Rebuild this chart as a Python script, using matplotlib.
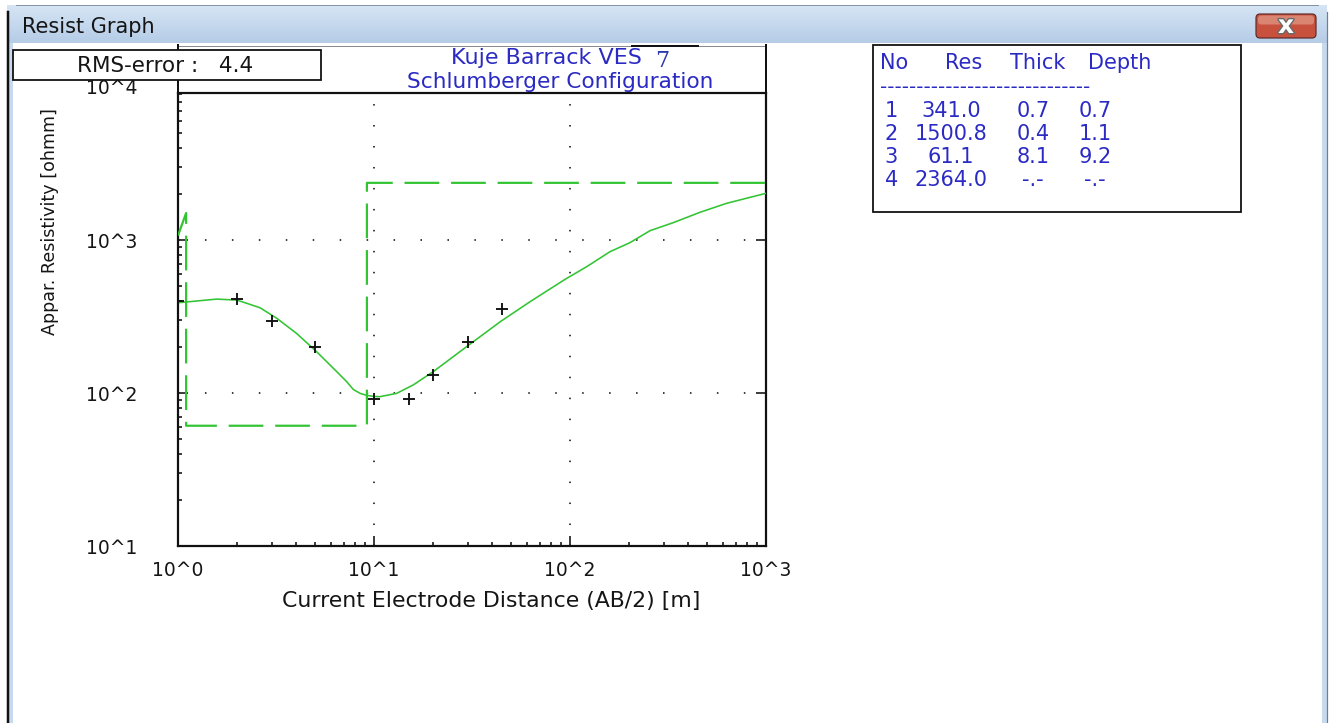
import numpy as np
import matplotlib
matplotlib.use("Agg")
import matplotlib.pyplot as plt
from matplotlib.patches import Rectangle, FancyBboxPatch
from matplotlib.colors import LinearSegmentedColormap
from matplotlib.ticker import FixedLocator, NullFormatter, LogLocator
import matplotlib.patheffects as pe

plt.rcParams['font.family'] = ['DejaVu Sans']
plt.rcParams['lines.scale_dashes'] = False

# ---------------- data ----------------
# measured apparent resistivity (crosses)
obs_ab2 = [1.0, 2.0, 3.0, 5.0, 10.0, 15.0, 20.0, 30.0, 45.0]
obs_rho = [400, 409, 294, 199, 92, 92, 132, 214, 356]

# computed model curve (solid green)
curve_ab2 = [1.0, 1.575, 2.0, 2.62, 3.19, 4.03, 5.10, 6.45, 7.26, 7.84, 8.49,
             9.18, 10.0, 10.7, 13.06, 15.87, 20.07, 29.7, 44.0, 62.5, 94.3,
             121.6, 160, 202, 256, 336, 460, 630, 1000]
curve_rho = [389, 411, 405, 361, 308, 245, 186, 138, 118.5, 105.5, 99.5,
             96.5, 95, 94.6, 99.5, 113, 138, 201, 292, 395, 553,
             669, 839, 960, 1151, 1298, 1517, 1738, 2020]

# layer model (table + dashed step line)
layer_no = [1, 2, 3, 4]
layer_res = [341.0, 1500.8, 61.1, 2364.0]
layer_thick = [0.7, 0.4, 8.1, None]
layer_depth = [0.7, 1.1, 9.2, None]
step_start_rho = 1070  # where the drawn step line enters the plot at AB/2 = 1

rms_error = 4.4
title1 = "Kuje Barrack VES"
ves_no = "7"
title2 = "Schlumberger Configuration"

x_ticks = [1, 10, 100, 1000]
x_ticklabels = ["10^0", "10^1", "10^2", "10^3"]
y_ticks = [10, 100, 1000]
y_ticklabels = ["10^1", "10^2", "10^3"]

# ---------------- figure ----------------
W, H = 1332, 723
fig = plt.figure(figsize=(W / 100, H / 100), dpi=100)
fig.patch.set_facecolor('white')

bg = fig.add_axes([0, 0, 1, 1], zorder=0)
bg.set_xlim(0, W)
bg.set_ylim(H, 0)
bg.axis('off')

PX = 0.72  # points per pixel
txt = '#151515'

# window title bar
cmap = LinearSegmentedColormap.from_list('tb', ['#d6e5f4', '#b5cce7'])
grad = np.linspace(0, 1, 64).reshape(-1, 1)
bg.imshow(grad, extent=[7, 1327, 43, 5], aspect='auto', cmap=cmap, zorder=0.5)
bg.set_xlim(0, W)
bg.set_ylim(H, 0)
bg.plot([16, 1318], [5, 5], color='#8393a8', lw=1 * PX, zorder=1)
bg.add_patch(Rectangle((8.5, 43), 4.5, H - 43, fc='#c6d9ee', ec='none', zorder=1))
bg.plot([7.5, 7.5], [12, H], color='#111111', lw=2.5 * PX, zorder=1)
bg.add_patch(Rectangle((1322, 43), 4.5, H - 43, fc='#c6d9ee', ec='none', zorder=1))
bg.plot([1327, 1327], [12, H], color='#6f7f93', lw=1.2 * PX, zorder=1)
bg.text(22, 27, "Resist Graph", fontsize=15, color=txt, va='center', ha='left')

# close button
bg.add_patch(FancyBboxPatch((1256, 14), 60, 24,
                            boxstyle='round,pad=0,rounding_size=4',
                            fc='#c8513d', ec='#5e2b2b', lw=1.2 * PX, zorder=2))
bg.add_patch(FancyBboxPatch((1258, 15.5), 56, 9,
                            boxstyle='round,pad=0,rounding_size=3',
                            fc='#e39a8a', ec='none', alpha=0.7, zorder=2.1))
bg.text(1286, 26, "x", fontsize=18, fontweight='bold', color='white',
        ha='center', va='center', zorder=3,
        path_effects=[pe.withStroke(linewidth=2, foreground='#6a6a6a')])

# plot frame extension (title area)
bg.plot([178, 766], [45.5, 45.5], color='#8a8a8a', lw=1 * PX, zorder=2)
bg.plot([632, 698], [46, 46], color='#111111', lw=2 * PX, zorder=2.2)
bg.add_patch(Rectangle((647, 42.5), 33, 2, fc='white', ec='none', zorder=2.3))
bg.plot([178, 178], [45, 93], color='#111111', lw=2 * PX, zorder=2)
bg.plot([766, 766], [45, 93], color='#111111', lw=2 * PX, zorder=2)

# RMS box
bg.add_patch(Rectangle((13, 50), 308, 30, fc='white', ec='#111111', lw=1.8 * PX, zorder=3))
bg.text(165, 66, f"RMS-error :   {rms_error:.1f}", fontsize=15.5, color=txt,
        ha='center', va='center', zorder=4)

# titles
blue = '#2b2bc4'
bg.text(546, 58, title1, fontsize=16, color=blue, ha='center', va='center', zorder=4)
bg.text(662, 61, ves_no, fontsize=16, color='#2a3aa8', ha='center', va='center',
        family=['DejaVu Serif'], zorder=4)
bg.text(560, 82, title2, fontsize=15.6, color=blue, ha='center', va='center', zorder=4)

# table box
bg.add_patch(Rectangle((873, 45), 368, 167, fc='white', ec='#111111', lw=1.8 * PX, zorder=3))
tfs = 15
hdr_y = 63
for lab, xx in zip(["No", "Res", "Thick", "Depth"], [880, 945, 1010, 1088]):
    bg.text(xx, hdr_y, lab, fontsize=tfs, color=blue, ha='left', va='center', zorder=4)
bg.text(880, 88, "-" * 29, fontsize=tfs - 0.5, color=blue, ha='left', va='center', zorder=4)
row_y0, row_dy = 111, 23
for i, (n, r, t, d) in enumerate(zip(layer_no, layer_res, layer_thick, layer_depth)):
    yy = row_y0 + i * row_dy
    bg.text(898, yy, str(n), fontsize=tfs, color=blue, ha='right', va='center', zorder=4)
    bg.text(951, yy, f"{r:.1f}", fontsize=tfs, color=blue, ha='center', va='center', zorder=4)
    bg.text(1033, yy, "-.-" if t is None else f"{t:.1f}", fontsize=tfs, color=blue,
            ha='center', va='center', zorder=4)
    bg.text(1095, yy, "-.-" if d is None else f"{d:.1f}", fontsize=tfs, color=blue,
            ha='center', va='center', zorder=4)

# ---------------- main axes ----------------
ax = fig.add_axes([178 / W, 1 - 546 / H, 588 / W, 453 / H], zorder=1)
ax.set_xscale('log')
ax.set_yscale('log')
ax.set_xlim(1, 1000)
ax.set_ylim(10, 10 ** 3.961)

green = '#33c433'
# layer step model (dashed)
step_x = [1.0, layer_depth[1], layer_depth[1], layer_depth[2], layer_depth[2], 1000]
step_y = [step_start_rho, layer_res[1], layer_res[2], layer_res[2], layer_res[3], layer_res[3]]
ax.plot(step_x, step_y, color=green, lw=2.2 * PX, dashes=(25, 8.5), zorder=3)
# model curve
ax.plot(curve_ab2, curve_rho, color=green, lw=1.6 * PX, zorder=3)
# observed points
ax.plot(obs_ab2, obs_rho, linestyle='none', marker='+', ms=12 * PX, mew=1.9 * PX,
        color='#111111', zorder=4)

ax.xaxis.set_major_locator(FixedLocator(x_ticks))
ax.set_xticklabels(x_ticklabels)
ax.yaxis.set_major_locator(FixedLocator(y_ticks))
ax.set_yticklabels(y_ticklabels)
ax.xaxis.set_minor_locator(LogLocator(base=10, subs=np.arange(2, 10)))
ax.yaxis.set_minor_locator(LogLocator(base=10, subs=np.arange(2, 10)))
ax.xaxis.set_minor_formatter(NullFormatter())
ax.yaxis.set_minor_formatter(NullFormatter())

tick_fs = 13.5
ax.tick_params(which='both', direction='in', colors='#111111', width=1.6 * PX,
               top=False, labelsize=tick_fs, labelcolor=txt)
ax.tick_params(which='major', length=10 * PX, right=True)
ax.tick_params(which='minor', length=4 * PX, right=False)
ax.tick_params(axis='y', which='major', pad=41 * PX)
ax.tick_params(axis='x', which='major', pad=15 * PX)

for s in ax.spines.values():
    s.set_linewidth(2.2 * PX)
    s.set_color('#111111')

ax.set_axisbelow(True)
ax.yaxis.grid(True, which='major', color='#111111', lw=1.6 * PX,
              linestyle=(0, (1.1, 18.3)))
ax.xaxis.grid(True, which='major', color='#111111', lw=1.6 * PX,
              linestyle=(0, (1.1, 14.0)))

ax.text(-41 / 588, 10 ** 3.99, "10^4", transform=ax.get_yaxis_transform(),
        ha='right', va='center', fontsize=tick_fs, color=txt, clip_on=False)

ax.set_xlabel("Current Electrode Distance (AB/2) [m]", fontsize=15.8, color=txt)
ax.set_ylabel("Appar. Resistivity [ohmm]", fontsize=12.6, color=txt)
ax.yaxis.set_label_coords((59 - 178) / 588, (546 - 222) / 453)
ax.xaxis.set_label_coords((491 - 178) / 588, -(591 - 546) / 453)

fig.savefig("out.png", dpi=100, facecolor='white')
